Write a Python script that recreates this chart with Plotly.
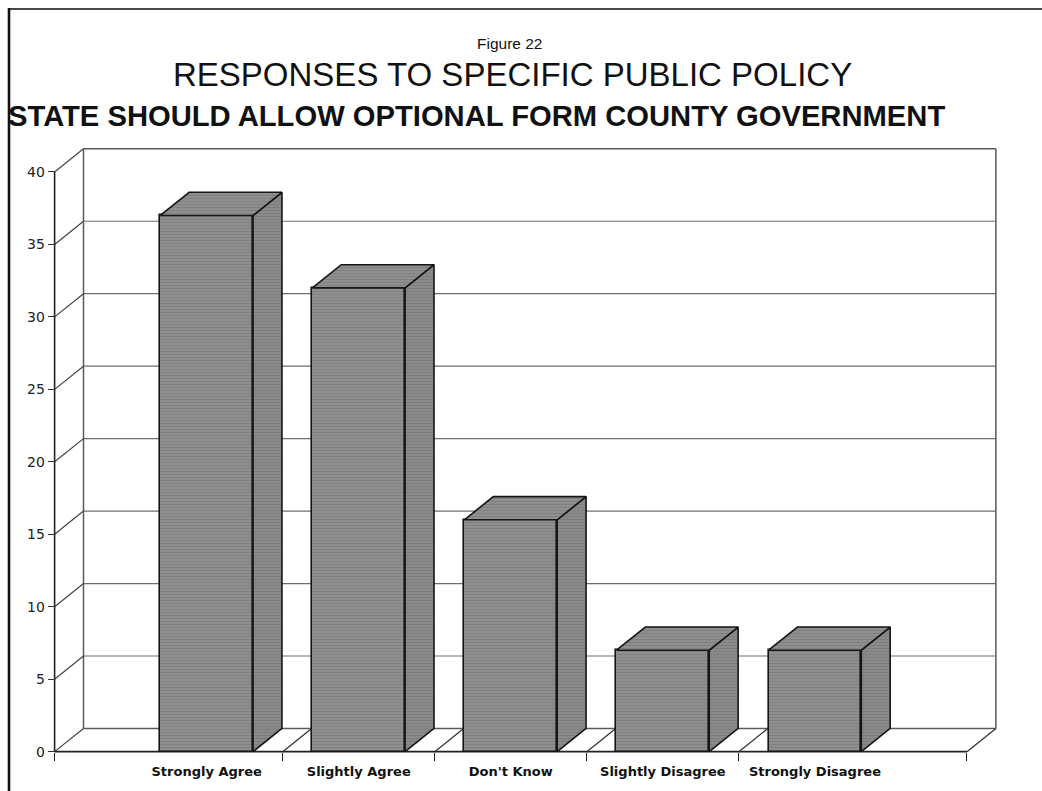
import plotly.graph_objects as go

# ---------------- data ----------------
categories = ["Strongly Agree", "Slightly Agree", "Don't Know", "Slightly Disagree", "Strongly Disagree"]
values = [37, 32, 16, 7, 7]
y_ticks = [0, 5, 10, 15, 20, 25, 30, 35, 40]
y_tick_text = [str(v) for v in y_ticks]
title_fig = "Figure 22"
title_main = "RESPONSES TO SPECIFIC PUBLIC POLICY"
title_sub = "STATE SHOULD ALLOW OPTIONAL FORM COUNTY GOVERNMENT"

# ---------------- geometry / style ----------------
W, H = 1042, 791
L, R, T, B = 47, 37, 143, 35
XR = [-0.05, 6.25]
YR = [-0.3, 42]
DX, DY = 0.19, 1.6          # 3-D depth offset in axis units
BAR_W = 0.61
x_pos = list(range(1, len(categories) + 1))
x_end = len(categories) + 1
y_top = y_ticks[-1]
separators = [p + 0.5 for p in x_pos[:-1]]

plot_w = W - L - R
plot_h = H - T - B


def px_x(px):
    return (px - L) / plot_w


def px_y(py):
    return (H - B - py) / plot_h


FACE = "#8f8f8f"
FACE_FG = "#6c6c6c"
SIDE = "#8a8a8a"
EDGE = "#151515"
WALL = "#5a5a5a"

shapes = []


def seg(x0, y0, x1, y1, color=WALL, width=1.4):
    shapes.append(dict(type="line", xref="x", yref="y", x0=x0, y0=y0, x1=x1, y1=y1,
                       line=dict(color=color, width=width), layer="below"))


# back wall horizontal grid lines (incl. floor back edge and top)
for v in y_ticks:
    seg(DX, v + DY, x_end + DX, v + DY, color=WALL if v in (0, y_top) else "#6e6e6e",
        width=1.5 if v in (0, y_top) else 1.2)
# back wall verticals
seg(DX, DY, DX, y_top + DY, width=1.5)
seg(x_end + DX, DY, x_end + DX, y_top + DY, width=1.5)
# left side-wall diagonals from front axis ticks
for v in y_ticks:
    seg(0, v, DX, v + DY, color="#444444", width=1.2)
# front axis line
seg(0, 0, 0, y_top, color="#222222", width=1.6)
# floor front edge
seg(0, 0, x_end, 0, color="#222222", width=1.6)
# floor separators
for s in separators + [x_end]:
    seg(s, 0, s + DX, DY, color="#333333", width=1.3)

# page border (scan frame)
shapes.append(dict(type="line", xref="paper", yref="paper", x0=px_x(9), y0=px_y(9), x1=px_x(1042), y1=px_y(9),
                   line=dict(color="#4a4a4a", width=2.2)))
shapes.append(dict(type="line", xref="paper", yref="paper", x0=px_x(9), y0=px_y(8), x1=px_x(9), y1=px_y(791),
                   line=dict(color="#111111", width=2.6)))

fig = go.Figure()

# front faces
fig.add_trace(go.Bar(
    x=x_pos, y=values, width=BAR_W,
    marker=dict(color=FACE, line=dict(color=EDGE, width=1.6),
                pattern=dict(shape="-", fgcolor=FACE_FG, bgcolor=FACE, size=3, solidity=0.3)),
    hoverinfo="skip", showlegend=False,
))

# top faces and side faces derived from the values
top_x, top_y, side_x, side_y = [], [], [], []
for c, v in zip(x_pos, values):
    x0, x1 = c - BAR_W / 2, c + BAR_W / 2
    top_x += [x0, x1, x1 + DX, x0 + DX, x0, None]
    top_y += [v, v, v + DY, v + DY, v, None]
    side_x += [x1, x1 + DX, x1 + DX, x1, x1, None]
    side_y += [0, DY, v + DY, v, 0, None]

fig.add_trace(go.Scatter(
    x=side_x, y=side_y, mode="lines", fill="toself", fillcolor=SIDE,
    fillpattern=dict(shape="-", fgcolor=FACE_FG, bgcolor=SIDE, size=3, solidity=0.3),
    line=dict(color=EDGE, width=1.6), hoverinfo="skip", showlegend=False,
))
fig.add_trace(go.Scatter(
    x=top_x, y=top_y, mode="lines", fill="toself", fillcolor=FACE,
    fillpattern=dict(shape="-", fgcolor=FACE_FG, bgcolor=FACE, size=3, solidity=0.3),
    line=dict(color=EDGE, width=1.6), hoverinfo="skip", showlegend=False,
))

SANS = "Liberation Sans, Arial, Helvetica, sans-serif"
annotations = [
    dict(text=title_fig, x=px_x(509), y=px_y(43), xref="paper", yref="paper", showarrow=False,
         xanchor="center", yanchor="middle", font=dict(family=SANS, size=15.5, color="#111")),
    dict(text=title_main, x=px_x(512), y=px_y(74), xref="paper", yref="paper", showarrow=False,
         xanchor="center", yanchor="middle", font=dict(family=SANS, size=33, color="#111")),
    dict(text=title_sub, x=px_x(476), y=px_y(116), xref="paper", yref="paper", showarrow=False,
         xanchor="center", yanchor="middle", font=dict(family=SANS, size=29.2, color="#111", weight="bold")),
]

fig.update_layout(
    width=W, height=H,
    margin=dict(l=L, r=R, t=T, b=B, pad=0),
    paper_bgcolor="white", plot_bgcolor="white",
    shapes=shapes, annotations=annotations,
    bargap=0, showlegend=False,
    xaxis=dict(range=XR, anchor="free", position=(0 - YR[0]) / (YR[1] - YR[0]),
               tickmode="array", tickvals=x_pos, ticktext=categories, ticks="",
               ticklabelstandoff=10,
               tickfont=dict(family="DejaVu Sans", size=13, color="#111", weight="bold"),
               minor=dict(tickmode="array", tickvals=[0] + separators + [x_end], ticks="outside",
                          ticklen=8, tickwidth=1.4, tickcolor="#222", showgrid=False),
               showgrid=False, zeroline=False, showline=False, fixedrange=True),
    yaxis=dict(range=YR, anchor="free", position=(0 - XR[0]) / (XR[1] - XR[0]),
               tickmode="array", tickvals=y_ticks, ticktext=y_tick_text, ticks="outside",
               ticklen=7, tickwidth=1.3, tickcolor="#333",
               tickfont=dict(family="DejaVu Sans", size=14, color="#222"),
               showgrid=False, zeroline=False, showline=False, fixedrange=True),
)

fig.write_html("out.html", config={"displayModeBar": False},
               post_script="document.body.style.margin='0';document.body.style.overflow='hidden';")
